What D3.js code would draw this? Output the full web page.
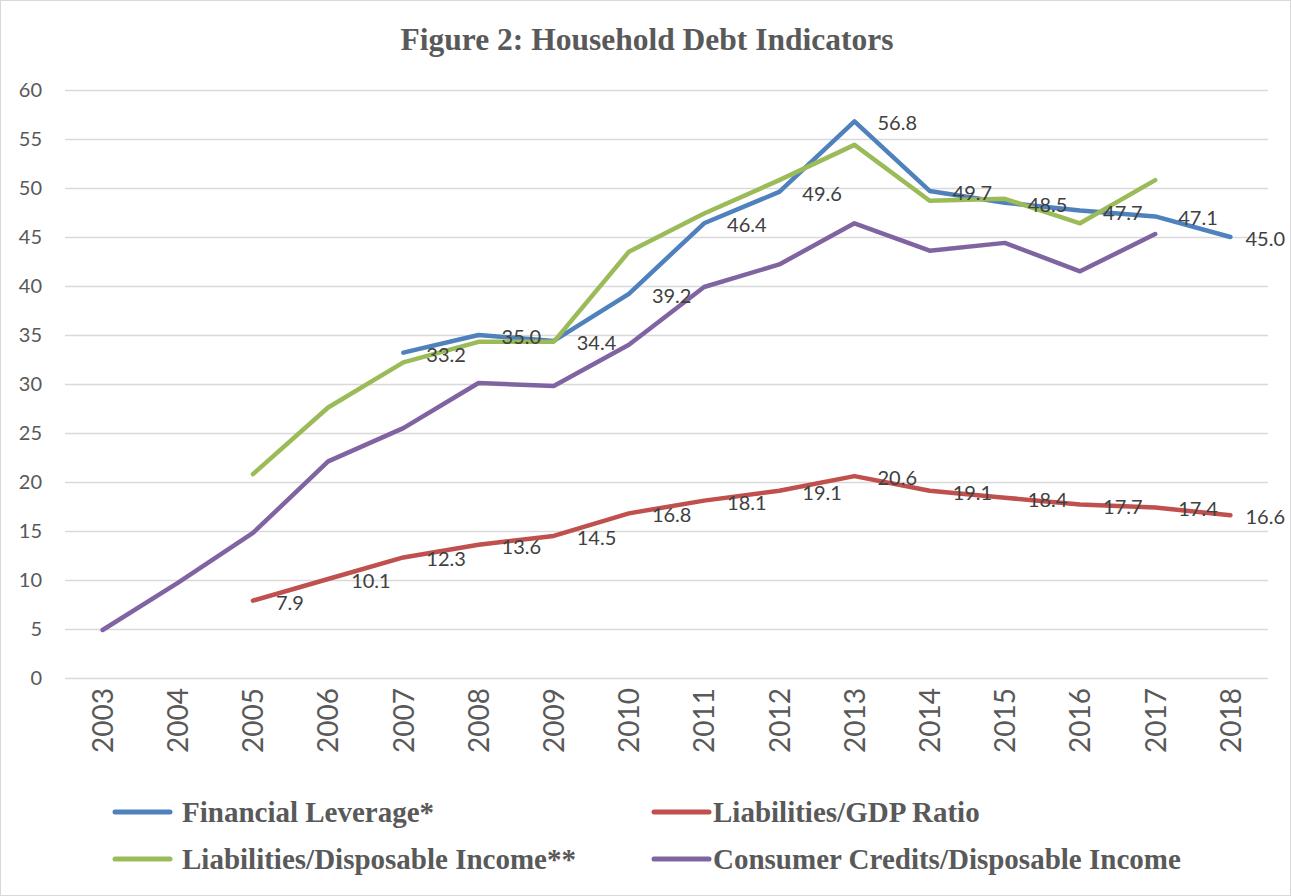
<!DOCTYPE html>
<html>
<head>
<meta charset="utf-8">
<script src="https://cdn.jsdelivr.net/npm/d3@7"></script>
<style>
  body { margin: 0; background: #fff; }
  svg { display: block; }
</style>
</head>
<body>
<svg id="chart"></svg>
<script>
var width = 1291,
    height = 896;

// data
var years = [2003, 2004, 2005, 2006, 2007, 2008, 2009, 2010, 2011, 2012, 2013, 2014, 2015, 2016, 2017, 2018];
var leverage = [null, null, null, null, 33.2, 35.0, 34.4, 39.2, 46.4, 49.6, 56.8, 49.7, 48.5, 47.7, 47.1, 45.0];
var liabGdp = [null, null, 7.9, 10.1, 12.3, 13.6, 14.5, 16.8, 18.1, 19.1, 20.6, 19.1, 18.4, 17.7, 17.4, 16.6];
var liabIncome = [null, null, 20.8, 27.6, 32.2, 34.3, 34.3, 43.5, 47.4, 50.8, 54.4, 48.7, 48.9, 46.4, 50.8, null];
var consumerCredit = [4.9, 9.7, 14.8, 22.1, 25.5, 30.1, 29.8, 34.0, 39.9, 42.2, 46.4, 43.6, 44.4, 41.5, 45.3, null];
var yTicks = [0, 5, 10, 15, 20, 25, 30, 35, 40, 45, 50, 55, 60];

var series = [
  { name: "Financial Leverage*", values: leverage, color: "#4f81bd", labels: true },
  { name: "Liabilities/GDP Ratio", values: liabGdp, color: "#c0504d", labels: true },
  { name: "Liabilities/Disposable Income**", values: liabIncome, color: "#9bbb59", labels: false },
  { name: "Consumer Credits/Disposable Income", values: consumerCredit, color: "#8064a2", labels: false }
];

var svg = d3.select("#chart")
    .attr("width", width)
    .attr("height", height);

// outer frame
svg.append("rect")
    .attr("x", 0.5)
    .attr("y", 0.5)
    .attr("width", width - 1)
    .attr("height", height - 1)
    .attr("fill", "#fff")
    .attr("stroke", "#d9d9d9");

var x = d3.scalePoint()
    .domain(years)
    .range([65, 1268])
    .padding(0.5);

var y = d3.scaleLinear()
    .domain([0, 60])
    .range([678, 90]);

// title
svg.append("text")
    .attr("x", 647)
    .attr("y", 50)
    .attr("text-anchor", "middle")
    .style("font-family", "'Liberation Serif', 'Times New Roman', serif")
    .style("font-weight", "bold")
    .style("font-size", "31.5px")
    .style("fill", "#595959")
    .text("Figure 2: Household Debt Indicators");

// horizontal gridlines + y tick labels
var yAxis = d3.axisLeft(y)
    .tickValues(yTicks)
    .tickSize(-(1268 - 65))
    .tickPadding(23);

var yG = svg.append("g")
    .attr("transform", "translate(65,0)")
    .call(yAxis);

yG.select(".domain").remove();
yG.selectAll(".tick line")
    .attr("stroke", "#d9d9d9")
    .attr("stroke-width", 1.5);
yG.selectAll(".tick text")
    .style("font-family", "Lato, 'Open Sans', sans-serif")
    .style("font-size", "20px")
    .style("fill", "#595959");

// x axis labels, rotated
var xAxis = d3.axisBottom(x)
    .tickSize(0)
    .tickFormat(d3.format("d"));

var xG = svg.append("g")
    .attr("transform", "translate(0,678)")
    .call(xAxis);

xG.select(".domain").remove();
xG.selectAll(".tick text")
    .attr("transform", "rotate(-90)")
    .attr("x", -10)
    .attr("y", 0)
    .attr("dy", "0.35em")
    .attr("text-anchor", "end")
    .style("font-family", "Lato, 'Open Sans', sans-serif")
    .style("font-size", "28px")
    .style("fill", "#595959");

// lines
var line = d3.line()
    .defined(d => d.v != null)
    .x(d => x(d.year))
    .y(d => y(d.v));

series.forEach(s => {
  s.points = years.map((yr, i) => ({ year: yr, v: s.values[i] }));
});

svg.append("g")
  .selectAll("path")
  .data(series)
  .enter()
  .append("path")
    .attr("d", d => line(d.points))
    .attr("fill", "none")
    .attr("stroke", d => d.color)
    .attr("stroke-width", 4.5)
    .attr("stroke-linejoin", "round")
    .attr("stroke-linecap", "round");

// data labels, to the right of each point (pulled back inside the frame)
var labelG = svg.append("g");
series.filter(s => s.labels).forEach(s => {
  labelG.selectAll(null)
    .data(s.points.filter(p => p.v != null))
    .enter()
    .append("text")
      .attr("y", d => y(d.v) + 2)
      .attr("dy", "0.35em")
      .style("font-family", "Lato, 'Open Sans', sans-serif")
      .style("font-size", "20px")
      .style("fill", "#404040")
      .text(d => d3.format(".1f")(d.v))
      .attr("x", function(d) {
        var len = this.getComputedTextLength();
        return Math.min(x(d.year) + 23, width - 6 - len);
      });
});

// legend
var legendPos = [
  { lx: 115, tx: 182, y: 812 },
  { lx: 654, tx: 713, y: 812 },
  { lx: 115, tx: 182, y: 859 },
  { lx: 654, tx: 713, y: 859 }
];

var legend = svg.append("g")
  .selectAll("g")
  .data(series)
  .enter()
  .append("g");

legend.append("line")
    .attr("x1", (d, i) => legendPos[i].lx)
    .attr("x2", (d, i) => legendPos[i].lx + 55)
    .attr("y1", (d, i) => legendPos[i].y)
    .attr("y2", (d, i) => legendPos[i].y)
    .attr("stroke", d => d.color)
    .attr("stroke-width", 5)
    .attr("stroke-linecap", "round");

legend.append("text")
    .attr("x", (d, i) => legendPos[i].tx)
    .attr("y", (d, i) => legendPos[i].y)
    .attr("dy", "0.33em")
    .style("font-family", "'Liberation Serif', 'Times New Roman', serif")
    .style("font-weight", "bold")
    .style("font-size", "29px")
    .style("fill", "#595959")
    .text(d => d.name);
</script>
</body>
</html>
